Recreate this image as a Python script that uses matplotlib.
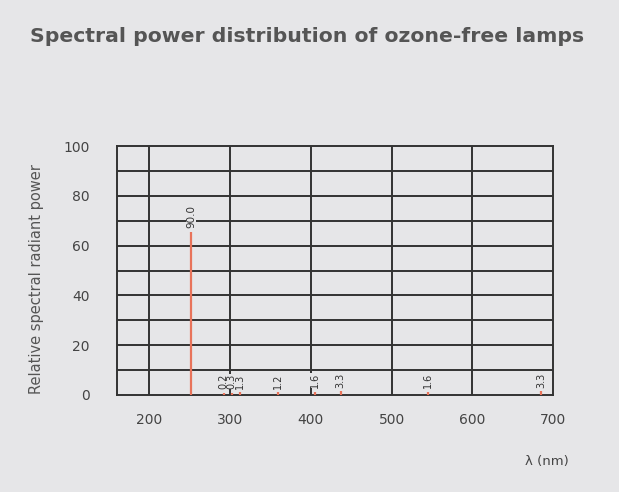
import matplotlib
matplotlib.use("Agg")
import matplotlib.pyplot as plt

# Data
wavelengths = [252, 292, 302, 312, 359, 405, 437, 545, 685]
heights = [65.5, 1.0, 1.0, 1.2, 1.2, 1.3, 1.5, 1.3, 1.5]
value_labels = ["90.0", "0.2", "0.3", "1.3", "1.2", "1.6", "3.3", "1.6", "3.3"]
x_ticks = [200, 300, 400, 500, 600, 700]
y_ticks = [0, 20, 40, 60, 80, 100]
y_grid = [10, 20, 30, 40, 50, 60, 70, 80, 90]

BG = "#e6e6e8"
GRID = "#333333"
LINE = "#e8735a"
TXT = "#555555"

plt.rcParams['font.family'] = ['DejaVu Sans']

fig = plt.figure(figsize=(6.19, 4.92), dpi=100, facecolor=BG)
ax = fig.add_axes([117.3 / 619, 97 / 492, 436 / 619, 249 / 492], facecolor=BG)

ax.set_xlim(160.5, 700)
ax.set_ylim(0, 100)

for x in x_ticks[:-1]:
    ax.axvline(x, color=GRID, lw=1.4, zorder=1)
for y in y_grid:
    ax.axhline(y, color=GRID, lw=1.4, zorder=1)
for s in ax.spines.values():
    s.set_color(GRID)
    s.set_linewidth(1.4)
    s.set_zorder(1)

for i, (x, h, lab) in enumerate(zip(wavelengths, heights, value_labels)):
    ax.vlines(x, 0, h, color=LINE, lw=1.6, zorder=20)
    ax.annotate(lab, (x, h), xytext=(0, 2.5), textcoords="offset points",
                rotation=90, ha="center", va="bottom",
                fontsize=7.5 if h > 10 else 7,
                color="#333333", zorder=3 + i * 0.1,
                bbox=dict(boxstyle="square,pad=0.0", fc=BG, ec="none"))

ax.set_xticks(x_ticks)
ax.set_yticks(y_ticks)
ax.tick_params(length=0, labelsize=10, labelcolor="#444444")
ax.tick_params(axis="x", pad=13)
ax.tick_params(axis="y", pad=20)

fig.text(37 / 619, 1 - 279 / 492, "Relative spectral radiant power", rotation=90,
         ha="center", va="center", fontsize=10.5, color=TXT)
fig.text(569 / 619, 1 - 462 / 492, "λ (nm)", ha="right", va="center",
         fontsize=9.5, color="#444444")
fig.text(30 / 619, 1 - 37 / 492, "Spectral power distribution of ozone-free lamps",
         ha="left", va="center", fontsize=14.7, fontweight="bold", color="#555555")

fig.savefig("out.png", dpi=100, facecolor=BG)
